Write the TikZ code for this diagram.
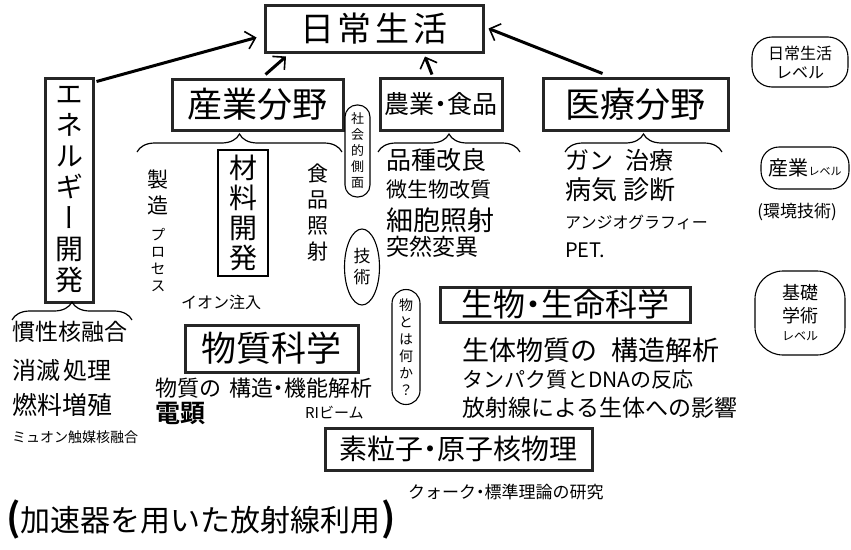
\documentclass[tikz,border=0pt]{standalone}
\usepackage{fontspec}
\setmainfont{Noto Sans CJK JP}
\newfontfamily\jpv[RawFeature=+vert]{Noto Sans CJK JP}
\newfontfamily\jpb{Noto Sans CJK JP Bold}
\usetikzlibrary{arrows.meta,decorations.pathreplacing,shapes.geometric,calc}
\newcommand\fsz[2]{\fontsize{#1}{#2}\selectfont}
\newcommand\ndot{\kern-0.25em・\kern-0.25em}
\begin{document}
\begin{tikzpicture}[x=1pt,y=-1pt,
  hbox/.style={draw=black!85,line width=3pt,inner sep=0pt},
  bub/.style={draw,line width=1.1pt,rounded corners=12pt,inner sep=1pt},
  arr/.style={line width=3pt,-{Straight Barb[length=9pt,width=18pt,line width=1.6pt]}},
  brc/.style={decorate,decoration={brace,amplitude=18pt},line width=1.2pt},
  txt/.style={inner sep=0pt,anchor=west},
  vtxt/.style={inner sep=0pt,align=center}
]
\useasboundingbox (0,0) rectangle (851,549);
\fill[white] (0,0) rectangle (851,549);

% main boxes
\node[hbox,minimum width=218pt,minimum height=47pt,font=\fsz{34}{40}] (daily) at (374,28.5) {日\hspace{4pt}常\hspace{4pt}生\hspace{4pt}活};
\node[hbox,minimum width=48pt,minimum height=224pt,vtxt,font=\jpv\fsz{28}{31}] (energy) at (69,190) {エ\\ネ\\ル\\ギ\\ー\\開\\発};
\node[hbox,minimum width=171pt,minimum height=51pt,font=\fsz{35}{40}] (sangyo) at (257.5,104.5) {産業分野};
\node[hbox,minimum width=122pt,minimum height=52pt,font=\fsz{25}{28}] (nogyo) at (441,104) {農業\ndot 食品};
\node[hbox,minimum width=185pt,minimum height=52pt,font=\fsz{35}{40}] (iryo) at (635.5,104) {医療分野};

% arrows
\draw[arr] ($(energy.north east)+(2,5)$) -- ($(daily.west)+(-7,9)$);
\draw[arr] ($(sangyo.north)+(8,-3)$) -- ($(daily.south)+(-88,3)$);
\draw[arr] ($(nogyo.north)+(-9,-2)$) -- ($(daily.south)+(51,3)$);
\draw[arr] ($(iryo.north)+(-33,-3)$) -- ($(daily.east)+(4,0)$);

% braces
\draw[brc] (137,152) -- (342,152);
\draw[brc] (378,152) -- (520,152);
\draw[brc] (565,152) -- (722,152);
\draw[brc] (12,320) -- (132,320);

% industry column
\node[bub,minimum width=25pt,minimum height=92pt,vtxt,font=\jpv\fsz{13}{16}] (shakai) at (357.5,151) {社\\会\\的\\側\\面};
\node[vtxt,font=\fsz{21}{26}] (seizo1) at (158,192) {製\\造};
\node[vtxt,font=\jpv\fsz{15}{17}] (seizo2) at (158,260) {プ\\ロ\\セ\\ス};
\node[draw,line width=1.8pt,minimum width=50pt,minimum height=126pt,vtxt,font=\fsz{28}{30}] (zairyo) at (243,213) {材\\料\\開\\発};
\node[vtxt,font=\fsz{21}{26}] (shokuhin) at (318,213) {食\\品\\照\\射};
\node[ellipse,draw,line width=1.1pt,minimum width=35pt,minimum height=76pt,inner sep=0pt,vtxt,font=\fsz{17}{21}] (gijutsu) at (362,267) {技\\術};
\node[txt,font=\fsz{16}{18}] (ion) at (181,302) {イオン注入};

% agriculture
\node[txt,font=\fsz{25}{27}] (hinshu) at (386,160) {品種改良};
\node[txt,font=\fsz{21}{24}] (biseibutsu) at (386,190) {微生物改質};
\node[txt,font=\fsz{27}{29}] (saibou) at (386,220) {細胞照射};
\node[txt,font=\fsz{23}{26}] (totsuzen) at (386,247) {突然変異};

% medical
\node[txt,font=\fsz{24}{26}] (gan) at (565,160) {ガン\hspace{12pt}治療};
\node[txt,font=\fsz{26}{28}] (byouki) at (565,190) {病気\hspace{6pt}診断};
\node[txt,font=\fsz{16}{18}] (angio) at (565,222) {アンジオグラフィー};
\node[txt,font=\fsz{20}{22}] (pet) at (565,250) {PET.};

% level bubbles
\node[bub,rounded corners=20pt,minimum width=96pt,minimum height=50pt,align=center,font=\fsz{16}{19}] (lv1) at (800,62) {日常生活\\レベル};
\node[bub,rounded corners=18pt,minimum width=88pt,minimum height=42pt] (lv2) at (805,168) {\fsz{20}{22}産業\fsz{11}{13}レベル};
\node[inner sep=0pt,font=\fsz{17}{19}] (kankyo) at (797,212) {(環境技術)};
\node[bub,rounded corners=28pt,minimum width=90pt,minimum height=84pt] (lv3) at (800,313) {};
\node[vtxt,font=\fsz{18}{23}] (lv3a) at (800,304) {基礎\\学術};
\node[inner sep=0pt,font=\fsz{12}{14}] (lv3b) at (800,336) {レベル};

% life science
\node[hbox,minimum width=250pt,minimum height=35pt,font=\fsz{32}{34}] (seibutsu) at (565,304.5) {生物\ndot 生命科学};
\node[txt,font=\fsz{27}{29}] (seitai) at (462,350) {生体物質の\hspace{14pt}構造解析};
\node[txt,font=\fsz{21}{23}] (tanpaku) at (462,380) {タンパク質とDNAの反応};
\node[txt,font=\fsz{23}{25}] (houshasen) at (462,408) {放射線による生体への影響};

% material science
\node[hbox,minimum width=173pt,minimum height=47pt,font=\fsz{35}{38}] (busshitsu) at (271.5,348.5) {物質科学};
\node[bub,rounded corners=14pt,minimum width=28pt,minimum height=115pt,vtxt,font=\jpv\fsz{14}{17}] (mono) at (406,347) {物\\と\\は\\何\\か\\？};
\node[txt,font=\fsz{22}{24}] (kouzou) at (155,388) {物質の\hspace{8pt}構造\ndot 機能解析};
\node[txt,font=\jpb\fsz{25}{27}] (denken) at (155,413) {電顕};
\node[txt,font=\fsz{15}{17}] (ri) at (305,413) {RIビーム};

% particle physics
\node[hbox,minimum width=267pt,minimum height=42pt,font=\fsz{28}{30}] (soryushi) at (458.5,449) {素粒子\ndot 原子核物理};
\node[txt,font=\fsz{17}{19}] (quark) at (408,492) {クォーク\ndot 標準理論の研究};

% energy items
\node[txt,font=\fsz{23}{25}] (kansei) at (12,332) {慣性核融合};
\node[txt,font=\fsz{24}{26}] (shoumetsu) at (12,370) {消滅\hspace{3pt}処理};
\node[txt,font=\fsz{25}{27}] (nenryou) at (12,405) {燃料増殖};
\node[txt,font=\fsz{14}{16}] (muon) at (12,437) {ミュオン触媒核融合};

% bottom
\node[txt,font=\jpb\fsz{38}{40}] (lpar) at (6,520) {(};
\node[txt,font=\fsz{30}{32}] (kasokuki) at (lpar.east) {加速器を用いた放射線利用};
\node[txt,font=\jpb\fsz{38}{40}] (rpar) at (kasokuki.east) {)};
\end{tikzpicture}
\end{document}
